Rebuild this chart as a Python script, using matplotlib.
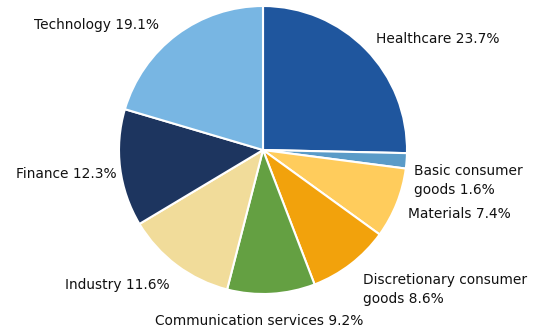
import numpy as np
import matplotlib
matplotlib.use("Agg")
import matplotlib.pyplot as plt

sectors = ["Healthcare", "Basic consumer\ngoods", "Materials",
           "Discretionary consumer\ngoods", "Communication services",
           "Industry", "Finance", "Technology"]
shares = [23.7, 1.6, 7.4, 8.6, 9.2, 11.6, 12.3, 19.1]
colors = ["#1f569e", "#5a9bc8", "#ffcc5c", "#f2a20c",
          "#64a042", "#f1dc9a", "#1d355f", "#78b6e3"]

# label placement: distance from centre (in radii) and angle nudge (deg)
label_dist = [1.10, 1.07, 1.10, 1.19, 1.19, 1.14, 1.03, 1.13]
label_nudge = [0, -7, -2, -2, -4.5, 2, 2, 3]

fig = plt.figure(figsize=(5.45, 3.33), dpi=100)
r_px = 144
cx, cy = 263, 333 - 150
ax = fig.add_axes([(cx - r_px) / 545, (cy - r_px) / 333, 2 * r_px / 545, 2 * r_px / 333])

wedges, _ = ax.pie(shares, colors=colors, startangle=90, counterclock=False,
                   wedgeprops=dict(edgecolor="white", linewidth=1.5))
ax.set_xlim(-1, 1)
ax.set_ylim(-1, 1)
ax.set_aspect("auto")
ax.axis("off")

for w, name, val, d, nudge in zip(wedges, sectors, shares, label_dist, label_nudge):
    ang = np.deg2rad((w.theta1 + w.theta2) / 2 + nudge)
    x, y = d * np.cos(ang), d * np.sin(ang)
    if abs(x) < 0.1:
        ha = "center"
    else:
        ha = "left" if x > 0 else "right"
    ax.text(x, y, f"{name} {val}%", ha=ha, va="center", fontsize=9.9,
            color="#111111", linespacing=1.45, clip_on=False)

fig.savefig("out.png", dpi=100)
